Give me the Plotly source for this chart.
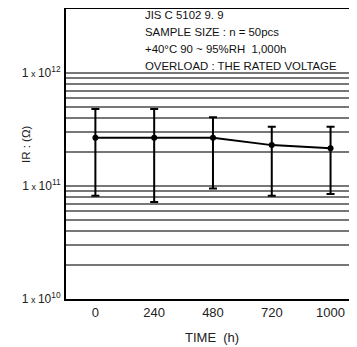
import plotly.graph_objects as go

# hours on test (categorical axis)
hours = ["0", "240", "480", "720", "1000"]
# insulation resistance, ohms: mean with min/max of the sample
ir_mean = [2.67e11, 2.67e11, 2.67e11, 2.3e11, 2.16e11]
ir_max = [4.8e11, 4.8e11, 4.05e11, 3.35e11, 3.35e11]
ir_min = [8.2e10, 7.2e10, 9.5e10, 8.2e10, 8.5e10]

cond_lines = [
    "JIS C 5102 9. 9",
    "SAMPLE SIZE : n = 50pcs",
    "+40°C 90 ~ 95%RH  1,000h",
    "OVERLOAD : THE RATED VOLTAGE",
]

major_vals = [1e10, 1e11, 1e12]
major_text = ["1<span style='font-size:9px'> x </span>10<sup>10</sup>",
              "1<span style='font-size:9px'> x </span>10<sup>11</sup>",
              "1<span style='font-size:9px'> x </span>10<sup>12</sup>"]
minor_vals = [m * 10 ** e for e in (10, 11) for m in range(2, 10)]
limit_ir = 8e10

font = "Liberation Sans, Arial, sans-serif"

err_plus = [hi - m for hi, m in zip(ir_max, ir_mean)]
err_minus = [m - lo for lo, m in zip(ir_min, ir_mean)]

# page has an 8px body margin, so the figure is sized to fit inside it
W, H = 349, 339
ML, MT, MB = 58, 1, 48
ph = H - MT - MB

fig = go.Figure()
fig.add_trace(go.Scatter(
    x=list(range(len(hours))), y=ir_mean, mode="lines+markers",
    line=dict(color="black", width=2),
    marker=dict(color="black", size=6),
    error_y=dict(type="data", array=err_plus, arrayminus=err_minus,
                 color="black", thickness=2, width=4),
    showlegend=False,
))

# black separator at 1e12 and limit line
for yv in (1e12, limit_ir):
    fig.add_shape(type="line", xref="paper", x0=0, x1=1, y0=yv, y1=yv,
                  line=dict(color="black", width=2), layer="below")

for i, t in enumerate(cond_lines):
    fig.add_annotation(text=t, xref="paper", yref="paper", x=(135 - ML) / (W - ML),
                       y=1 - (6 + 17 * i) / ph, xanchor="left", yanchor="middle",
                       showarrow=False, font=dict(size=11.4, color="#111", family=font))

fig.add_annotation(text="IR : (Ω)", xref="paper", yref="paper", x=(18 - ML) / (W - ML),
                   y=(291 - 136) / ph, xanchor="center", yanchor="middle", textangle=-90,
                   showarrow=False, font=dict(size=11.5, color="#222", family=font))
fig.add_annotation(text="TIME&nbsp; (h)", xref="paper", yref="paper", x=0.5,
                   y=-38 / ph, xanchor="center", yanchor="middle", showarrow=False,
                   font=dict(size=13, color="#222", family=font))

fig.update_layout(
    width=W, height=H,
    margin=dict(l=ML, r=0, t=MT, b=MB),
    paper_bgcolor="white", plot_bgcolor="white",
    font=dict(family=font, size=11, color="#222"),
    xaxis=dict(range=[-0.5, 4.45], tickvals=list(range(len(hours))), ticktext=hours,
               tickfont=dict(size=13),
               showgrid=False, zeroline=False, showline=True, linecolor="black",
               linewidth=2, mirror=True, ticks=""),
    yaxis=dict(type="log", range=[10, 10 + ph / 113], tickvals=major_vals,
               ticktext=major_text, ticklabelstandoff=1, tickfont=dict(size=12),
               showgrid=True, gridcolor="#777", gridwidth=1.5, zeroline=False,
               showline=True, linecolor="black", linewidth=2, ticks="",
               minor=dict(tickvals=minor_vals, showgrid=True, gridcolor="#777",
                          gridwidth=1.5, ticks="")),
)

fig.write_html("out.html")
